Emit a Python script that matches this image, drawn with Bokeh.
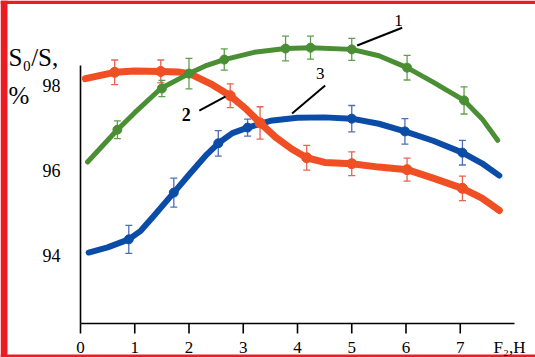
from bokeh.plotting import figure
from bokeh.models import Range1d, Whisker, TeeHead, ColumnDataSource, BoxAnnotation
from bokeh.core.properties import value
from bokeh.embed import file_html
from bokeh.resources import INLINE

# ---- data ----
x_ticks = [0, 1, 2, 3, 4, 5, 6, 7]
x_tick_labels = ["0", "1", "2", "3", "4", "5", "6", "7"]
y_ticks = [94, 96, 98]
y_tick_labels = ["94", "96", "98"]

# curve 1 (green) trace
c1_x = [0.13, 0.68, 1.0, 1.48, 2.0, 2.3, 2.65, 3.2, 3.78, 4.24, 5.0, 5.5, 6.02, 6.5, 7.07, 7.4, 7.69]
c1_y = [96.2, 96.96, 97.36, 97.93, 98.28, 98.46, 98.61, 98.78, 98.87, 98.89, 98.85, 98.7, 98.42, 98.08, 97.65, 97.22, 96.71]
# curve 2 (red) trace
c2_x = [0.09, 0.63, 1.0, 1.48, 1.8, 2.03, 2.4, 2.76, 3.05, 3.31, 3.6, 3.9, 4.17, 4.5, 5.0, 5.5, 6.02, 6.5, 7.04, 7.4, 7.72]
c2_y = [98.16, 98.31, 98.34, 98.33, 98.32, 98.27, 98.04, 97.76, 97.45, 97.12, 96.78, 96.5, 96.3, 96.19, 96.16, 96.08, 96.02, 95.82, 95.58, 95.35, 95.06]
# curve 3 (blue) trace
c3_x = [0.15, 0.5, 0.89, 1.11, 1.35, 1.72, 2.0, 2.33, 2.54, 2.8, 3.08, 3.5, 4.0, 4.5, 5.0, 5.5, 5.98, 6.5, 7.04, 7.4, 7.72]
c3_y = [94.07, 94.19, 94.38, 94.58, 94.93, 95.48, 95.9, 96.38, 96.64, 96.88, 97.01, 97.17, 97.24, 97.25, 97.22, 97.1, 96.92, 96.7, 96.42, 96.17, 95.88]

# measured points with error bars
m1_x = [0.68, 1.5, 2.0, 2.65, 3.78, 4.24, 5.0, 6.02, 7.07]
m1_y = [96.96, 97.93, 98.28, 98.61, 98.87, 98.89, 98.85, 98.42, 97.65]
m1_e = [0.21, 0.19, 0.36, 0.25, 0.29, 0.27, 0.26, 0.29, 0.32]

m2_x = [0.63, 1.48, 2.76, 3.31, 4.17, 5.0, 6.02, 7.04]
m2_y = [98.31, 98.33, 97.76, 97.12, 96.3, 96.16, 96.02, 95.58]
m2_e = [0.29, 0.27, 0.28, 0.38, 0.29, 0.28, 0.27, 0.29]

m3_x = [0.89, 1.72, 2.54, 3.08, 5.0, 5.98, 7.04]
m3_y = [94.38, 95.48, 96.64, 97.01, 97.22, 96.92, 96.42]
m3_e = [0.33, 0.34, 0.30, 0.20, 0.31, 0.30, 0.29]

GREEN, GREEN_E = "#4a8f34", "#5f9f4c"
RED, RED_E = "#f04f24", "#e66450"
BLUE, BLUE_E = "#0b4ca6", "#4d6fb8"
FRAME_RED = "#ed1c24"
SERIF = value("Liberation Serif")

# axis geometry (data units)
X0, X1 = 0, 8.0          # x axis extent
YB, YT = 92.4, 98.47     # y axis extent
TICK = 0.235             # x tick length below axis
LABEL_Y = 91.83          # baseline of the x tick labels

XR = (-1.4747, 8.3871)
YR = (91.6, 100.0)

p = figure(width=535, height=357, output_backend="svg", toolbar_location=None,
           x_range=Range1d(*XR), y_range=Range1d(*YR), min_border=0)
p.outline_line_color = None
p.xaxis.visible = False
p.yaxis.visible = False
p.xgrid.visible = False
p.ygrid.visible = False
p.background_fill_color = "white"
p.border_fill_color = "white"

# red page border (left, top, bottom), drawn beneath everything
for kw in (dict(right=XR[0] + 7 / 54.25), dict(bottom=YR[1] - 3.5 / 42.5), dict(top=YR[0] + 3.0 / 42.5)):
    p.add_layout(BoxAnnotation(fill_color=FRAME_RED, fill_alpha=1, line_color=None, level="underlay", **kw))

# axes drawn with the plot's scales
p.segment(x0=[X0, X0], y0=[YB, YB], x1=[X1, X0], y1=[YB, YT], line_color="black", line_width=1.6)
p.segment(x0=x_ticks, y0=[YB] * len(x_ticks), x1=x_ticks, y1=[YB - TICK] * len(x_ticks),
          line_color="black", line_width=1.6)
p.text(x=x_ticks, y=[LABEL_Y] * len(x_ticks), text=x_tick_labels, text_font=SERIF,
       text_font_size="17px", text_align="center", text_baseline="alphabetic", text_color="black")
p.text(x=[-0.37] * len(y_ticks), y=y_ticks, text=y_tick_labels, text_font=SERIF,
       text_font_size="18px", text_align="right", text_baseline="middle", text_color="black")


def series(cx, cy, mx, my, me, color, ecolor, lw, msize):
    p.line(cx, cy, line_color=color, line_width=lw, line_cap="round", line_join="round")
    p.scatter(mx, my, size=msize, fill_color=color, line_color=color)
    src = ColumnDataSource(dict(base=mx,
                                upper=[y + e for y, e in zip(my, me)],
                                lower=[y - e for y, e in zip(my, me)]))
    w = Whisker(source=src, base="base", upper="upper", lower="lower", dimension="height",
                line_color=ecolor, line_width=1.3,
                upper_head=TeeHead(size=7, line_color=ecolor, line_width=1.3),
                lower_head=TeeHead(size=7, line_color=ecolor, line_width=1.3))
    p.add_layout(w)


series(c3_x, c3_y, m3_x, m3_y, m3_e, BLUE, BLUE_E, 6, 9)
series(c2_x, c2_y, m2_x, m2_y, m2_e, RED, RED_E, 7, 10)
series(c1_x, c1_y, m1_x, m1_y, m1_e, GREEN, GREEN_E, 5, 9)

# leader lines for curve labels
p.line([5.10, 5.93], [98.94, 99.36], line_color="black", line_width=2)
p.line([2.19, 2.67], [97.41, 97.74], line_color="black", line_width=2)
p.line([3.90, 4.51], [97.34, 98.00], line_color="black", line_width=2)

p.text(x=[5.86], y=[99.53], text=["1"], text_font=SERIF, text_font_size="17px",
       text_align="center", text_baseline="middle", text_color="black")
p.text(x=[1.95], y=[97.32], text=["2"], text_font=SERIF, text_font_size="18px",
       text_font_style="bold", text_align="center", text_baseline="middle", text_color="black")
p.text(x=[4.42], y=[98.28], text=["3"], text_font=SERIF, text_font_size="17px",
       text_align="center", text_baseline="middle", text_color="black")

# axis titles
p.text(x=[-1.327], y=[98.66], text=["S₀/S,"], text_font=SERIF, text_font_size="25px",
       text_align="left", text_baseline="alphabetic", text_color="black")
p.text(x=[-1.327], y=[97.77], text=["%"], text_font=SERIF, text_font_size="25px",
       text_align="left", text_baseline="alphabetic", text_color="black")
p.text(x=[7.613], y=[LABEL_Y], text=["F₂,H"], text_font=SERIF, text_font_size="17px",
       text_align="left", text_baseline="alphabetic", text_color="black")

open("out.html", "w").write(file_html(p, INLINE))
